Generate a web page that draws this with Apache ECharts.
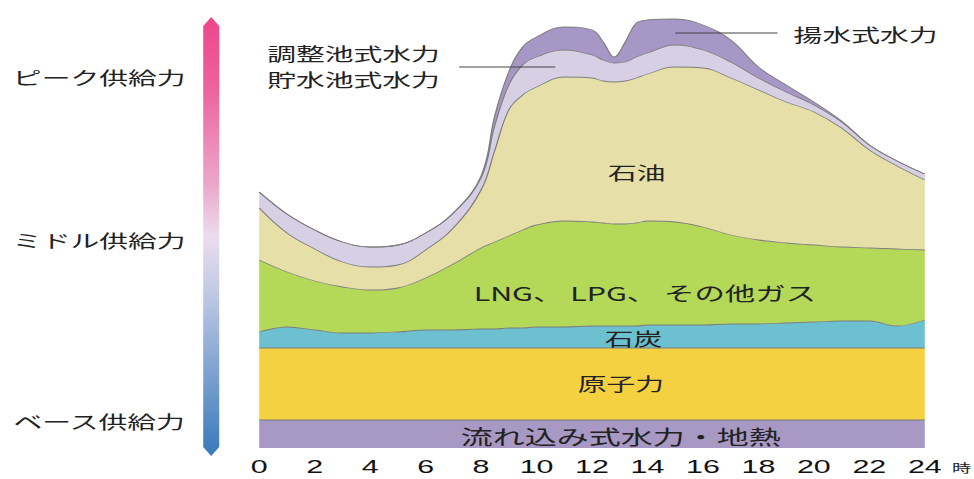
<!DOCTYPE html>
<html>
<head>
<meta charset="utf-8">
<script src="https://cdn.jsdelivr.net/npm/echarts@6.0.0/dist/echarts.min.js"></script>
<style>
  html, body { margin: 0; padding: 0; background: #fff; overflow: hidden; }
  /* the source picture is stretched sideways, so draw narrow and widen */
  #chart { width: 609px; height: 479px; transform: scaleX(1.6); transform-origin: 0 0; }
</style>
</head>
<body>
<div id="chart"></div>
<script>
// hour of day
const hours = [0, 1, 2, 3, 4, 5, 6, 7, 8, 8.5, 9, 9.5, 10, 11, 12, 12.4, 12.8, 13.2, 13.6, 14, 15, 16, 17, 18, 19, 20, 21, 22, 23, 24]
const hourTicks = [0, 2, 4, 6, 8, 10, 12, 14, 16, 18, 20, 22, 24]

// supply by source (relative units, bottom to top)
const runOfRiver = [28, 28, 28, 28, 28, 28, 28, 28, 28, 28, 28, 28, 28, 28, 28, 28, 28, 28, 28, 28, 28, 28, 28, 28, 28, 28, 28, 28, 28, 28]
const nuclear = [72, 72, 72, 72, 72, 72, 72, 72, 72, 72, 72, 72, 72, 72, 72, 72, 72, 72, 72, 72, 72, 72, 72, 72, 72, 72, 72, 72, 72, 72]
const coal = [16, 21, 18, 15, 15, 16, 18, 18, 19, 19, 20, 20, 21, 21, 22, 22, 22, 22, 22, 23, 23, 23, 24, 24, 25, 26, 27, 27, 22, 28]
const lngGas = [72, 55, 49, 46, 43, 44, 52, 66, 81, 87, 92, 98, 102, 106, 104, 103, 102, 102, 103, 104, 103, 98, 89, 84, 80, 77, 74, 73, 77, 70]
const oil = [52, 39, 32, 25, 23, 23, 28, 36, 58, 92, 126, 135, 138, 144, 144, 142, 142, 143, 145, 147, 155, 159, 157, 150, 141, 133, 119, 98, 83, 70]
const reservoirHydro = [16, 19, 19, 20, 20, 20, 17, 15, 12, 25, 25, 30, 30, 27, 23, 21, 19, 19, 21, 21, 22, 18, 16, 12, 10, 7, 6, 5, 5, 6]
const pumpedHydro = [0, 0, 0, 0, 0, 0, 0, 0, 2, 10, 13, 18, 20, 23, 25, 18, 6, 20, 34, 33, 26, 25, 22, 11, 7, 3, 1, 0, 0, 0]

const layers = [
  { name: '流れ込み式水力・地熱', values: runOfRiver, color: '#a898c4' },
  { name: '原子力', values: nuclear, color: '#f5d142' },
  { name: '石炭', values: coal, color: '#6cc0cf' },
  { name: 'LNG、LPG、その他ガス', values: lngGas, color: '#b4d858' },
  { name: '石油', values: oil, color: '#e7dfa8' },
  { name: '調整池式・貯水池式水力', values: reservoirHydro, color: '#d7cfe4' },
  { name: '揚水式水力', values: pumpedHydro, color: '#a797c6' }
]

const FONT = '"Noto Sans CJK JP", "Noto Sans CJK SC", sans-serif'

function label (text, x, y, align, size) {
  return {
    type: 'text',
    x: x,
    y: y,
    z: 100,
    silent: true,
    style: {
      text: text,
      fill: '#222',
      font: (size || 18) + 'px ' + FONT,
      lineHeight: 26,
      align: align || 'center',
      verticalAlign: 'middle'
    }
  }
}

function leader (x1, x2, y) {
  return {
    type: 'line',
    z: 100,
    silent: true,
    shape: { x1: x1, y1: y, x2: x2, y2: y },
    style: { stroke: '#444', lineWidth: 0.8 }
  }
}

const chart = echarts.init(document.getElementById('chart'), null, { renderer: 'svg' })

chart.setOption({
  animation: false,
  backgroundColor: '#fff',
  grid: {
    left: 162,
    right: 31,
    top: 10,
    bottom: 31,
    containLabel: false,
    outerBoundsMode: 'none'
  },
  xAxis: {
    type: 'value',
    min: 0,
    max: 24,
    interval: 2,
    axisLine: { show: false },
    axisTick: { show: false },
    splitLine: { show: false },
    axisLabel: {
      show: true,
      showMinLabel: true,
      showMaxLabel: true,
      margin: 9,
      color: '#111',
      fontSize: 19,
      fontFamily: '"Liberation Sans", Arial, sans-serif',
      customValues: hourTicks
    },
    name: '時',
    nameLocation: 'end',
    nameGap: 17,
    nameTextStyle: {
      color: '#222',
      fontSize: 12,
      fontFamily: FONT,
      verticalAlign: 'top',
      padding: [14, 0, 0, 0]
    }
  },
  yAxis: {
    type: 'value',
    min: 0,
    max: 438,
    show: false
  },
  // value column first so the stack adds up the supply, not the hour
  series: layers.map(l => ({
    name: l.name,
    type: 'line',
    stack: 'supply',
    smooth: 0.4,
    symbol: 'none',
    silent: true,
    encode: { x: 1, y: 0 },
    lineStyle: { width: 0.8, color: '#7d7d7d' },
    areaStyle: { color: l.color, opacity: 1 },
    data: hours.map((h, i) => [l.values[i], h])
  })),
  graphic: [
    // peak / middle / base gradient bar
    {
      type: 'polygon',
      silent: true,
      shape: { points: [[127, 26], [132, 17], [137, 26], [137, 447], [132, 456], [127, 447]] },
      style: {
        fill: new echarts.graphic.LinearGradient(0, 0, 0, 1, [
          { offset: 0, color: '#ef4689' },
          { offset: 0.15, color: '#ee5f9b' },
          { offset: 0.38, color: '#eca7cb' },
          { offset: 0.5, color: '#ebdcee' },
          { offset: 0.62, color: '#c3cbe5' },
          { offset: 0.82, color: '#7aa0cf' },
          { offset: 1, color: '#3879bc' }
        ])
      }
    },
    label('ピーク供給力', 62, 77),
    label('ミドル供給力', 62, 240),
    label('ベース供給力', 62, 421),
    // area names
    label('石油', 398, 172),
    label('LNG、 LPG、 その他ガス', 403, 293, 'center', 19),
    label('石炭', 396, 338),
    label('原子力', 388, 383),
    label('流れ込み式水力・地熱', 388, 436, 'center', 20),
    // callouts
    label('調整池式水力\n貯水池式水力', 167, 66, 'left'),
    leader(287, 347, 67),
    label('揚水式水力', 496, 34, 'left'),
    leader(422, 486, 33)
  ]
})
</script>
</body>
</html>
